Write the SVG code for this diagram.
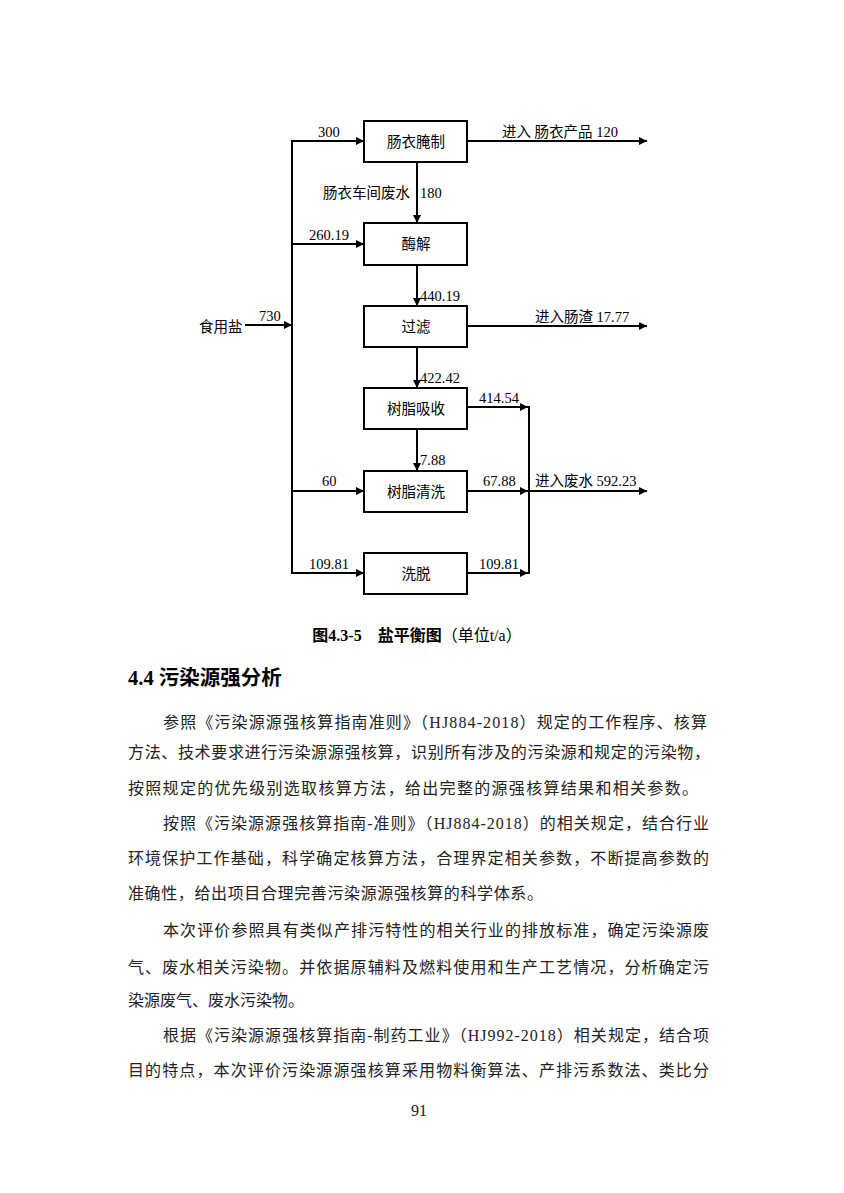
<svg xmlns="http://www.w3.org/2000/svg" width="844" height="1193" viewBox="0 0 844 1193">
<style>
.bg{fill:#fff}
.box{fill:#fff;stroke:#000;stroke-width:2}
.ln{fill:none;stroke:#000;stroke-width:2}
.arr{fill:none;stroke:#000;stroke-width:2;marker-end:url(#ah)}
.t{font-family:"Liberation Serif","Noto Sans CJK SC",serif;font-size:14.5px;fill:#000}
.bt{font-family:"Liberation Serif","Noto Sans CJK SC",serif;font-size:14.5px;fill:#000;text-anchor:middle;dominant-baseline:central}
.p{font-family:"Liberation Serif","Noto Sans CJK SC",serif;font-size:16px;fill:#222}
.h{font-family:"Liberation Serif","Noto Sans CJK SC",serif;font-size:20.5px;font-weight:bold;fill:#000}
.cap{font-family:"Liberation Serif","Noto Sans CJK SC",serif;font-size:16px;fill:#000;text-anchor:middle}
</style>
<defs>
<marker id="ah" viewBox="0 0 10 10" refX="10" refY="5" markerWidth="4.5" markerHeight="4" orient="auto" markerUnits="strokeWidth">
<path d="M0,0 L10,5 L0,10 z" fill="#000"/>
</marker>
</defs>
<rect class="bg" x="0" y="0" width="844" height="1193"/>

<g id="connectors">
<line class="ln" x1="292" y1="140" x2="292" y2="574"/>
<line class="arr" x1="291" y1="141" x2="364" y2="141"/>
<line class="arr" x1="291" y1="244" x2="364" y2="244"/>
<line class="arr" x1="291" y1="491" x2="364" y2="491"/>
<line class="arr" x1="291" y1="573" x2="364" y2="573"/>
<line class="arr" x1="245" y1="325" x2="292" y2="325"/>
<line class="arr" x1="417" y1="162" x2="417" y2="223"/>
<line class="arr" x1="417" y1="265" x2="417" y2="306"/>
<line class="arr" x1="417" y1="347" x2="417" y2="388"/>
<line class="arr" x1="417" y1="429" x2="417" y2="471"/>
<line class="arr" x1="467" y1="141" x2="647" y2="141"/>
<line class="arr" x1="467" y1="326" x2="647" y2="326"/>
<line class="arr" x1="467" y1="407" x2="528" y2="407"/>
<line class="arr" x1="467" y1="491" x2="528" y2="491"/>
<line class="arr" x1="467" y1="573" x2="528" y2="573"/>
<line class="ln" x1="529" y1="406" x2="529" y2="574"/>
<line class="arr" x1="529" y1="491" x2="647" y2="491"/>
</g>

<g id="node-changyi">
<rect class="box" x="364" y="121" width="103" height="41"/>
<text class="bt" x="416" y="142">肠衣腌制</text>
</g>
<g id="node-meijie">
<rect class="box" x="364" y="223" width="103" height="42"/>
<text class="bt" x="416" y="244">酶解</text>
</g>
<g id="node-guolv">
<rect class="box" x="364" y="306" width="103" height="41"/>
<text class="bt" x="416" y="327">过滤</text>
</g>
<g id="node-xishou">
<rect class="box" x="364" y="388" width="103" height="41"/>
<text class="bt" x="416" y="409">树脂吸收</text>
</g>
<g id="node-qingxi">
<rect class="box" x="364" y="471" width="103" height="41"/>
<text class="bt" x="416" y="492">树脂清洗</text>
</g>
<g id="node-xituo">
<rect class="box" x="364" y="553" width="103" height="41"/>
<text class="bt" x="416" y="574">洗脱</text>
</g>

<g id="labels">
<text class="t" x="318" y="137">300</text>
<text class="t" x="502" y="137">进入 肠衣产品 120</text>
<text class="t" x="323" y="198">肠衣车间废水 <tspan x="420">180</tspan></text>
<text class="t" x="309" y="240">260.19</text>
<text class="t" x="420" y="301">440.19</text>
<text class="t" x="199" y="332">食用盐</text>
<text class="t" x="259" y="321">730</text>
<text class="t" x="535" y="322">进入肠渣 17.77</text>
<text class="t" x="420" y="383">422.42</text>
<text class="t" x="479" y="403">414.54</text>
<text class="t" x="420" y="465">7.88</text>
<text class="t" x="322" y="486">60</text>
<text class="t" x="483" y="486">67.88</text>
<text class="t" x="535" y="486">进入废水 592.23</text>
<text class="t" x="309" y="569">109.81</text>
<text class="t" x="479" y="569">109.81</text>
</g>

<g id="caption">
<text class="cap" x="417" y="641"><tspan font-weight="bold">图4.3-5　盐平衡图</tspan><tspan>（单位t/a）</tspan></text>
</g>

<g id="body">
<text class="h" x="128" y="685">4.4 污染源强分析</text>
<text class="p" x="163" y="728" textLength="544" lengthAdjust="spacing">参照《污染源源强核算指南准则》（HJ884-2018）规定的工作程序、核算</text>
<text class="p" x="128" y="758" textLength="582" lengthAdjust="spacing">方法、技术要求进行污染源源强核算，识别所有涉及的污染源和规定的污染物，</text>
<text class="p" x="128" y="794" textLength="570" lengthAdjust="spacing">按照规定的优先级别选取核算方法，给出完整的源强核算结果和相关参数。</text>
<text class="p" x="163" y="829" textLength="546" lengthAdjust="spacing">按照《污染源源强核算指南-准则》（HJ884-2018）的相关规定，结合行业</text>
<text class="p" x="128" y="864" textLength="581" lengthAdjust="spacing">环境保护工作基础，科学确定核算方法，合理界定相关参数，不断提高参数的</text>
<text class="p" x="128" y="899" textLength="415" lengthAdjust="spacing">准确性，给出项目合理完善污染源源强核算的科学体系。</text>
<text class="p" x="163" y="936" textLength="546" lengthAdjust="spacing">本次评价参照具有类似产排污特性的相关行业的排放标准，确定污染源废</text>
<text class="p" x="128" y="973" textLength="581" lengthAdjust="spacing">气、废水相关污染物。并依据原辅料及燃料使用和生产工艺情况，分析确定污</text>
<text class="p" x="128" y="1006">染源废气、废水污染物。</text>
<text class="p" x="163" y="1041" textLength="546" lengthAdjust="spacing">根据《污染源源强核算指南-制药工业》（HJ992-2018）相关规定，结合项</text>
<text class="p" x="128" y="1076" textLength="581" lengthAdjust="spacing">目的特点，本次评价污染源源强核算采用物料衡算法、产排污系数法、类比分</text>
<text class="p" x="419" y="1116" font-size="12" text-anchor="middle">91</text>
</g>
</svg>
